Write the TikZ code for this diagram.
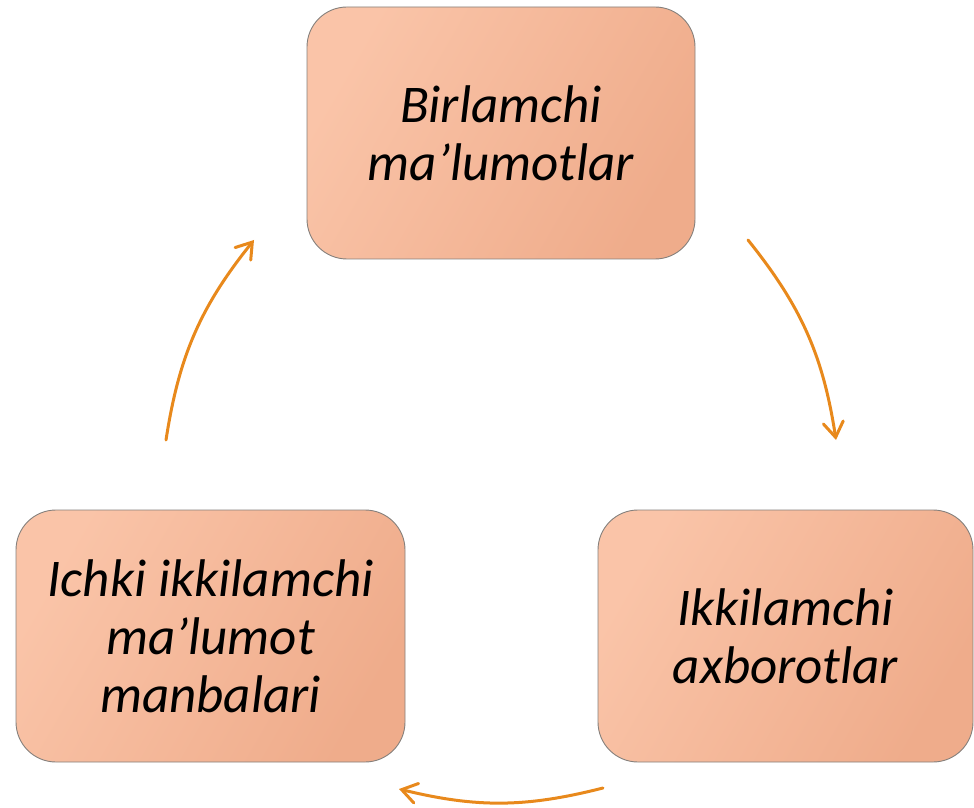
\documentclass[tikz,border=0pt]{standalone}
\usepackage{fontspec}
\setmainfont{Carlito}
\usetikzlibrary{arrows.meta}
\definecolor{pkA}{HTML}{FAC4A8}
\definecolor{pkB}{HTML}{EFAC8B}
\definecolor{bordc}{HTML}{85807C}
\definecolor{arrc}{HTML}{E8891C}
\tikzset{
  cbox/.style={draw=bordc, line width=0.9pt, rounded corners=40pt,
    top color=pkA, bottom color=pkB, shading angle=60,
    minimum height=252pt, align=center, inner sep=0pt,
    font=\fontsize{53}{58}\selectfont\itshape},
  cyc/.style={draw=arrc, line width=3pt, line cap=round,
    -{Straight Barb[length=15pt,width=20pt,line cap=round]}}
}
\begin{document}
\begin{tikzpicture}[x=1pt,y=1pt]
\useasboundingbox (0,0) rectangle (974,807);
\node[cbox, minimum width=388pt] (top) at (501,674) {Birlamchi\\ma’lumotlar};
\node[cbox, minimum width=389pt] (left) at (210.5,171) {Ichki ikkilamchi\\ma’lumot\\manbalari};
\node[cbox, minimum width=375pt] (right) at (785.5,171) {Ikkilamchi\\axborotlar};
\coordinate (a1s) at (166,367);
\coordinate (a1e) at (254,567);
\coordinate (a2s) at (748,567);
\coordinate (a2e) at (836,367);
\coordinate (a3s) at (603,19);
\coordinate (a3e) at (399,18);
\draw[cyc] (a1s) to[bend left=15] (a1e);
\draw[cyc] (a2s) to[bend left=15] (a2e);
\draw[cyc] (a3s) to[bend left=14] (a3e);
\end{tikzpicture}
\end{document}
